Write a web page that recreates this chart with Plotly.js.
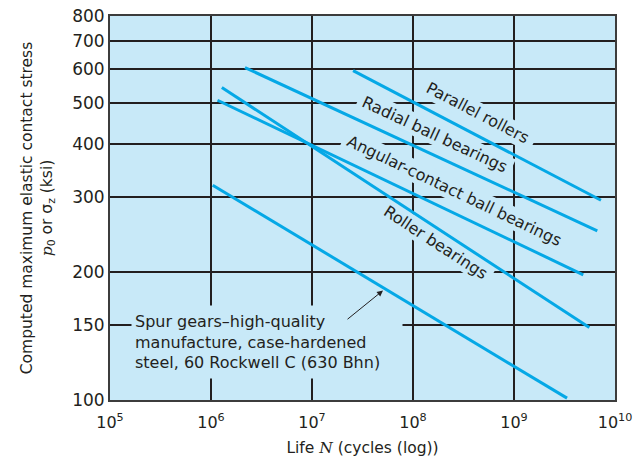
<!DOCTYPE html>
<html>
<head>
<meta charset="utf-8">
<script src="https://cdn.plot.ly/plotly-3.0.1.min.js"></script>
<style>html,body{margin:0;padding:0;background:#fff;}#chart{width:637px;height:462px;}</style>
</head>
<body>
<div id="chart"></div>
<script>
// Data (life N in cycles, stress in ksi)
const seriesNames = ['Parallel rollers', 'Radial ball bearings', 'Angular-contact ball bearings', 'Roller bearings', 'Spur gears'];
const lifeStart   = [2.55e7, 2.17e6, 1.16e6, 1.28e6, 1.04e6];
const lifeEnd     = [7.26e9, 6.68e9, 4.85e9, 5.57e9, 3.35e9];
const stressStart = [595, 605, 507, 543, 320];
const stressEnd   = [295, 250, 197, 148, 101];

const xTickVals = [1e5, 1e6, 1e7, 1e8, 1e9, 1e10];
const xTickText = ['10<sup>5</sup>', '10<sup>6</sup>', '10<sup>7</sup>', '10<sup>8</sup>', '10<sup>9</sup>', '10<sup>10</sup>'];
const yTickVals = [100, 150, 200, 300, 400, 500, 600, 700, 800];
const yTickText = ['100', '150', '200', '300', '400', '500', '600', '700', '800'];

const spurNote = 'Spur gears–high-quality<br>manufacture, case-hardened<br>steel, 60 Rockwell C (630 Bhn)';
const arrowLife = 5.05e7, arrowStress = 181;

const LINE = '#05a8e6', BG = '#c8e9f8', INK = '#231f20';
const FONT = 'DejaVu Sans, Verdana, sans-serif';

const traces = seriesNames.map((n, i) => ({
  type: 'scatter', mode: 'lines', name: n,
  x: [lifeStart[i], lifeEnd[i]], y: [stressStart[i], stressEnd[i]],
  line: {color: LINE, width: 3}, hoverinfo: 'name'
}));

// ---- layout helpers: pixel -> paper / axis values (plot area 110..615 x 16..400)
const px = v => (v - 110) / 505, py = v => (400 - v) / 384;
const toX = p => Math.pow(10, 5 + (p - 110) / 101);
const toY = p => Math.pow(10, Math.log10(800) - (p - 16) * Math.log10(8) / 384);

const labels = [
  {t: 'Parallel rollers', x: 477, y: 113, a: 27.5, len: 128},
  {t: 'Radial ball bearings', x: 435, y: 134, a: 25, len: 168},
  {t: 'Angular-contact ball bearings', x: 454, y: 190, a: 25.5, len: 244},
  {t: 'Roller bearings', x: 436, y: 242, a: 33, len: 130}
];
const annotations = labels.map(l => ({
  xref: 'paper', yref: 'paper', x: px(l.x), y: py(l.y), text: l.t, textangle: l.a,
  showarrow: false, xanchor: 'center', yanchor: 'middle',
  font: {family: FONT, size: 16, color: INK}
}));
// background-coloured bands under the labels: break the grid lines, not the curves
const shapes = labels.map(l => {
  const r = l.a * Math.PI / 180, dx = Math.cos(r) * l.len / 2, dy = Math.sin(r) * l.len / 2;
  return {type: 'line', xref: 'x', yref: 'y', layer: 'between',
    x0: toX(l.x - dx), y0: toY(l.y - dy), x1: toX(l.x + dx), y1: toY(l.y + dy),
    line: {color: BG, width: 22}};
});
annotations.push({
  xref: 'paper', yref: 'paper', x: px(131), y: py(342), xanchor: 'left', yanchor: 'middle',
  text: spurNote, align: 'left', showarrow: false, width: 264, height: 66, borderpad: 3,
  font: {family: FONT, size: 16, color: INK}, bgcolor: BG
});
annotations.push({
  x: Math.log10(arrowLife), y: Math.log10(arrowStress), text: '', showarrow: true,
  ax: -37, ay: 30, arrowhead: 2, arrowsize: 1.2, arrowwidth: 1, arrowcolor: INK
});

const layout = {
  width: 637, height: 462,
  margin: {l: 110, r: 22, t: 16, b: 62},
  paper_bgcolor: '#ffffff', plot_bgcolor: BG,
  showlegend: false,
  font: {family: FONT, color: INK},
  xaxis: {
    type: 'log', range: [5, 10], tickvals: xTickVals, ticktext: xTickText,
    showgrid: true, gridcolor: INK, gridwidth: 2, zeroline: false,
    showline: true, linecolor: '#3c3c3c', linewidth: 2, mirror: true, ticks: '',
    ticklabelstandoff: 7,
    tickfont: {family: FONT, size: 16, color: INK},
    title: {text: 'Life <i style="font-family:DejaVu Serif">N</i> (cycles (log))', font: {family: FONT, size: 15.5, color: INK}, standoff: 11}
  },
  yaxis: {
    type: 'log', range: [2, Math.log10(800)], tickvals: yTickVals, ticktext: yTickText,
    showgrid: true, gridcolor: INK, gridwidth: 2, zeroline: false,
    showline: true, linecolor: '#3c3c3c', linewidth: 2, mirror: true, ticks: '',
    tickfont: {family: FONT, size: 17, color: INK},
    title: {text: 'Computed maximum elastic contact stress<br><i style="font-family:DejaVu Serif">p</i><sub>0</sub> or σ<sub>z</sub> (ksi)', font: {family: FONT, size: 15.5, color: INK}, standoff: 16}
  },
  shapes: shapes,
  annotations: annotations
};

Plotly.newPlot('chart', traces, layout, {displayModeBar: false, staticPlot: true});
</script>
</body>
</html>
